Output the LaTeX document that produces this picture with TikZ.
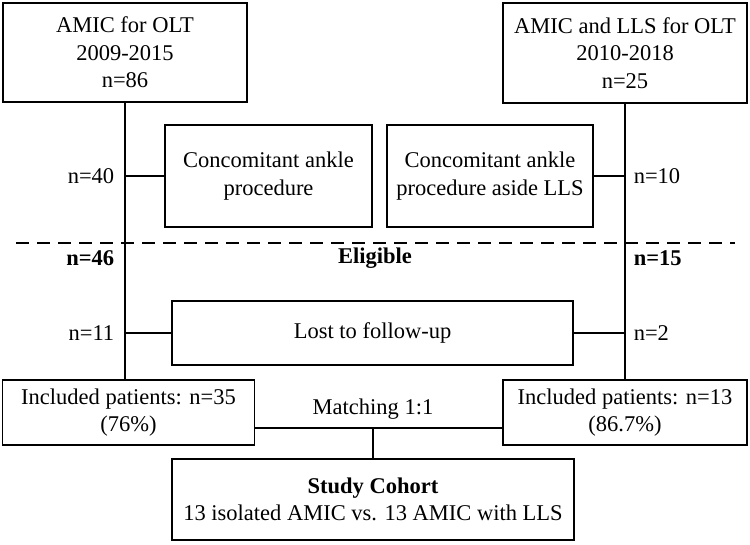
\documentclass[tikz,border=0pt]{standalone}
\usepackage{fontspec}
\setmainfont{Liberation Serif}
\usetikzlibrary{positioning}

\tikzset{
  box/.style={draw, line width=1.6pt, align=center, inner sep=2pt},
  lbl/.style={inner sep=0pt},
}

\begin{document}
\begin{tikzpicture}[x=1pt, y=-1pt, line width=1.6pt, font=\fontsize{22.5}{27.5}\selectfont]
\useasboundingbox (0,0) rectangle (750,544);

% cohorts
\node[box, minimum width=244pt, minimum height=99pt] (amic) at (125,52.5) {AMIC for OLT\\2009-2015\\n=86};
\node[box, minimum width=244pt, minimum height=100pt] (amiclls) at (625,53) {AMIC and LLS for OLT\\2010-2018\\n=25};

% exclusions
\node[box, minimum width=207pt, minimum height=102pt] (concL) at (268.5,176) {Concomitant ankle\\procedure};
\node[box, minimum width=206pt, minimum height=102pt] (concR) at (490,176) {Concomitant ankle\\procedure aside LLS};
\node[box, minimum width=401pt, minimum height=64pt] (lost) at (372.5,333) {Lost to follow-up};

% included
\node[box, minimum width=252pt, minimum height=65pt] (inclL) at (128.5,412.5) {Included patients: n=35\\(76\%)};
\node[box, minimum width=244pt, minimum height=65pt] (inclR) at (625,412.5) {Included patients: n=13\\(86.7\%)};
\node[box, minimum width=402pt, minimum height=81pt] (study) at (373,499.5) {\textbf{Study Cohort}\\13 isolated AMIC vs. 13 AMIC with LLS};

% main lines
\draw (amic.south) -- (amic.south |- inclL.north);
\draw (amiclls.south) -- (amiclls.south |- inclR.north);

\coordinate (j40) at (amic.south |- concL.west);
\coordinate (j10) at (amiclls.south |- concR.east);
\coordinate (j11) at (amic.south |- lost.west);
\coordinate (j2) at (amiclls.south |- lost.east);
\draw (j40) -- (concL.west);
\draw (j10) -- (concR.east);
\draw (j11) -- (lost.west);
\draw (j2) -- (lost.east);

\node[lbl, left=10pt of j40] (n40) {n=40};
\node[lbl, right=8pt of j10] (n10) {n=10};
\node[lbl, left=10pt of j11] (n11) {n=11};
\node[lbl, right=8pt of j2] (n2) {n=2};

% eligibility
\draw[dashed, dash pattern=on 13pt off 8pt] (16,243) -- (735,243);
\coordinate (e46) at (amic.south |- 0,258);
\coordinate (e15) at (amiclls.south |- 0,258);
\node[lbl, left=10pt of e46, font=\fontsize{22.5}{27.5}\selectfont\bfseries] (n46) {n=46};
\node[lbl, font=\fontsize{22.5}{27.5}\selectfont\bfseries] (elig) at (375,258) {Eligible};
\node[lbl, right=8pt of e15, font=\fontsize{22.5}{27.5}\selectfont\bfseries] (n15) {n=15};

% matching
\coordinate (mL) at (inclL.east |- 0,428);
\coordinate (mR) at (inclR.west |- 0,428);
\coordinate (mid) at (study.north |- mL);
\draw (mL) -- (mR);
\draw (mid) -- (study.north);
\node[lbl, above=8pt of mid] (match) {Matching 1:1};

\end{tikzpicture}
\end{document}
